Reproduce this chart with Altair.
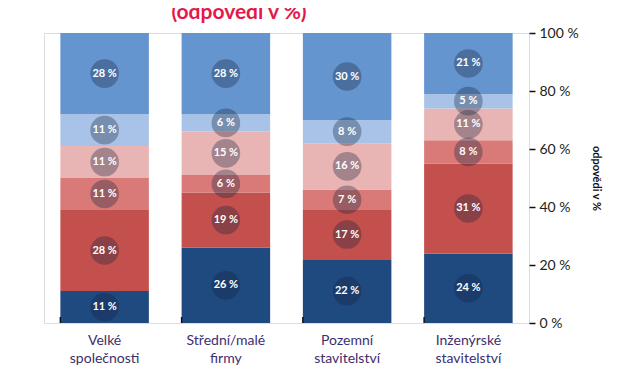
import altair as alt
import pandas as pd

categories = ["Velké společnosti", "Střední/malé firmy", "Pozemní stavitelství", "Inženýrské stavitelství"]
segments = ["1", "2", "3", "4", "5", "6"]  # bottom to top
seg_colors = ["#1f4a80", "#c4504d", "#d97a78", "#e9b4b4", "#a9c3e8", "#6595cf"]
values = [
    [11, 28, 11, 11, 11, 28],
    [26, 19, 6, 15, 6, 28],
    [22, 17, 7, 16, 8, 30],
    [24, 31, 8, 11, 5, 21],
]
y_ticks = [0, 20, 40, 60, 80, 100]
title_text = "(odpovědi v %)"
y_title = "odpovědi v %"

rows = []
for ci, cat in enumerate(categories):
    cum = 0
    for si, seg in enumerate(segments):
        v = values[ci][si]
        rows.append({"cat": cat, "seg": seg, "order": si, "v": v,
                     "start": cum, "end": cum + v, "mid": cum + v / 2,
                     "label": f"{v} %"})
        cum += v
df = pd.DataFrame(rows)

FONT = "Lato"

xscale = alt.Scale(domain=categories, paddingInner=0.27, paddingOuter=0.135)
yscale = alt.Scale(domain=[0, 100], nice=False)

base = alt.Chart(df)

bars = base.mark_bar().encode(
    x=alt.X("cat:N", scale=xscale, sort=categories,
            axis=alt.Axis(title=None, labelExpr="split(datum.label, ' ')", labelAngle=0,
                          labelFont=FONT, labelFontSize=14, labelColor="#3d2e6e",
                          labelPadding=10, labelLineHeight=18, ticks=False, domain=False)),
    y=alt.Y("start:Q", scale=yscale,
            axis=alt.Axis(orient="right", values=y_ticks, labelExpr="datum.value + ' %'",
                          title=y_title, titleAngle=90, titleFont=FONT, titleFontSize=11,
                          titleFontWeight="bold", titleColor="#111", titlePadding=12,
                          labelFont=FONT, labelFontSize=14, labelColor="#222",
                          tickSize=6, tickColor="#111", tickWidth=1.5, labelPadding=4,
                          grid=False, domain=False)),
    y2="end:Q",
    color=alt.Color("seg:N", scale=alt.Scale(domain=segments, range=seg_colors), legend=None),
)

circles = base.mark_point(filled=True, shape="circle", size=820, color="#16223c", opacity=0.33).encode(
    x=alt.X("cat:N", scale=xscale, sort=categories),
    y=alt.Y("mid:Q", scale=yscale),
)

labels = base.mark_text(font=FONT, fontSize=11, fontWeight="bold", color="white").encode(
    x=alt.X("cat:N", scale=xscale, sort=categories),
    y=alt.Y("mid:Q", scale=yscale),
    text="label:N",
)

tick_df = pd.DataFrame({"cat": categories})
ticks = alt.Chart(tick_df).mark_rule(color="#111", strokeWidth=1.5).encode(
    x=alt.X("cat:N", scale=xscale, sort=categories, bandPosition=0),
    y=alt.value(290), y2=alt.value(284),
)

title_df = pd.DataFrame({"t": [title_text]})
title = alt.Chart(title_df).mark_text(font=FONT, fontSize=21, fontWeight="bold",
                                      color="#e2194a", align="center", baseline="alphabetic").encode(
    x=alt.value(195), y=alt.value(-14), text="t:N")

chart = alt.layer(bars, circles, labels, ticks, title).properties(
    width=485, height=290,
    autosize=alt.AutoSizeParams(type="none"),
    padding={"left": 36, "top": 25, "right": 90, "bottom": 57},
).configure_view(stroke="#1a1a1a", strokeWidth=2).configure(background="white")

chart.save("out.html", embed_options={"renderer": "svg", "actions": False})
